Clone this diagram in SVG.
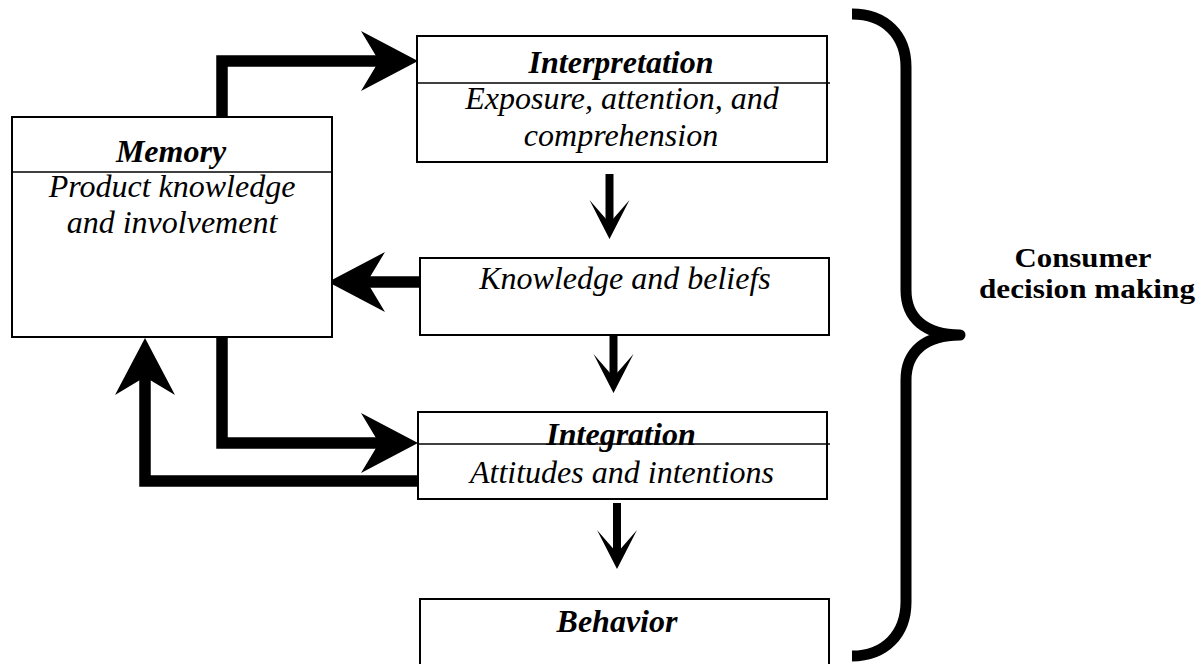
<svg xmlns="http://www.w3.org/2000/svg" width="1204" height="664" viewBox="0 0 1204 664">
  <style>
    .box { fill: #ffffff; stroke: #000000; stroke-width: 2; }
    .div { stroke: #000000; stroke-width: 1.6; fill: none; }
    .t { font-family: "Liberation Serif", "Times New Roman", serif; font-size: 32px; font-style: italic; fill: #000000; text-anchor: middle; }
    .tb { font-weight: bold; }
    .side { font-family: "Liberation Serif", "Times New Roman", serif; font-size: 28px; font-weight: bold; fill: #000000; text-anchor: middle; }
    .thick { stroke: #000000; stroke-width: 11.5; fill: none; stroke-linejoin: miter; stroke-linecap: butt; }
    .thin { stroke: #000000; stroke-width: 8; fill: none; stroke-linecap: butt; }
    .brace { stroke: #000000; stroke-width: 11; fill: none; stroke-linecap: butt; stroke-linejoin: round; }
  </style>
  <defs>
    <marker id="bigHead" markerUnits="userSpaceOnUse" orient="auto" refX="0" refY="0" markerWidth="120" markerHeight="120" viewBox="-60 -60 120 120" overflow="visible">
      <path d="M39,0 L-18,-30 L0,0 L-18,30 Z" fill="#000000"/>
    </marker>
    <marker id="smallHead" markerUnits="userSpaceOnUse" orient="auto" refX="0" refY="0" markerWidth="80" markerHeight="80" viewBox="-40 -40 80 80" overflow="visible">
      <path d="M16,0 L-23,-20 L0,0 L-23,20 Z" fill="#000000"/>
    </marker>
  </defs>

  <g id="connectors">
    <polyline class="thick" points="222,117 222,61 379,61" marker-end="url(#bigHead)"/>
    <line class="thick" x1="420" y1="282" x2="367" y2="282" marker-end="url(#bigHead)"/>
    <polyline class="thick" points="222,337 222,443 379,443" marker-end="url(#bigHead)"/>
    <polyline class="thick" points="420,481 145,481 145,377" marker-end="url(#bigHead)"/>
    <line class="thin" x1="609.5" y1="174" x2="609.5" y2="223" marker-end="url(#smallHead)"/>
    <line class="thin" x1="613.5" y1="327" x2="613.5" y2="377" marker-end="url(#smallHead)"/>
    <line class="thin" x1="617" y1="503" x2="617" y2="553" marker-end="url(#smallHead)"/>
  </g>

  <g id="memory">
    <rect class="box" x="12" y="117" width="320" height="220"/>
    <line class="div" x1="12" y1="172" x2="332" y2="172"/>
    <text class="t tb" x="171" y="162">Memory</text>
    <text class="t" x="172" y="197">Product knowledge</text>
    <text class="t" x="172" y="233">and involvement</text>
  </g>

  <g id="interpretation">
    <rect class="box" x="417" y="36" width="410" height="126"/>
    <line class="div" x1="418" y1="83" x2="830" y2="83"/>
    <text class="t tb" x="621" y="73">Interpretation</text>
    <text class="t" x="622" y="109">Exposure, attention, and</text>
    <text class="t" x="621" y="146">comprehension</text>
  </g>

  <g id="knowledge">
    <rect class="box" x="420" y="258" width="409" height="77"/>
    <text class="t" x="625" y="289">Knowledge and beliefs</text>
  </g>

  <g id="integration">
    <rect class="box" x="418" y="412" width="409" height="87"/>
    <text class="t tb" x="621" y="445">Integration</text>
    <line class="div" x1="418" y1="444" x2="830" y2="444"/>
    <text class="t" x="622" y="483">Attitudes and intentions</text>
  </g>

  <g id="behavior">
    <rect class="box" x="420" y="599" width="409" height="90"/>
    <text class="t tb" x="617" y="632">Behavior</text>
  </g>

  <g id="consumer-decision-making">
    <path class="brace" d="M852,14 C885,14 906,35 906,67 L906,290 C906,318 925,335 960,335 C925,335 906,352 906,380 L906,602 C906,634 885,656 852,656"/>
    <text class="side" x="1083" y="267" textLength="137" lengthAdjust="spacingAndGlyphs">Consumer</text>
    <text class="side" x="1087" y="298" textLength="216" lengthAdjust="spacingAndGlyphs">decision making</text>
  </g>
</svg>
